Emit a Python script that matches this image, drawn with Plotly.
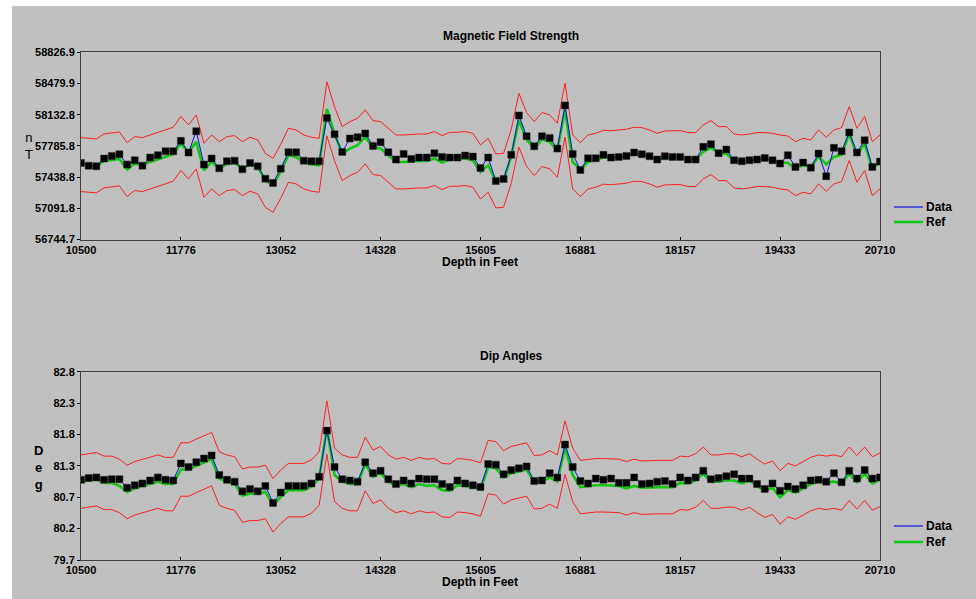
import plotly.graph_objects as go

W, H = 976, 599

# Survey stations (measured depth, ft)
depth_ft = [
    10500, 10598, 10696, 10795, 10893, 10991, 11089, 11187, 11285, 11384,
    11482, 11580, 11678, 11776, 11874, 11973, 12071, 12169, 12267, 12365,
    12463, 12562, 12660, 12758, 12856, 12954, 13052, 13151, 13249, 13347,
    13445, 13543, 13642, 13740, 13838, 13936, 14034, 14132, 14231, 14328,
    14427, 14525, 14623, 14721, 14820, 14918, 15016, 15114, 15212, 15310,
    15409, 15507, 15605, 15703, 15801, 15900, 15998, 16096, 16194, 16292,
    16390, 16489, 16587, 16685, 16783, 16881, 16979, 17078, 17176, 17274,
    17372, 17470, 17568, 17667, 17765, 17863, 17961, 18059, 18157, 18256,
    18354, 18452, 18550, 18648, 18747, 18845, 18943, 19041, 19139, 19237,
    19336, 19433, 19532, 19630, 19728, 19826, 19925, 20023, 20121, 20219,
    20317, 20415, 20514, 20612, 20710,
]

# Total magnetic field (nT)
mag_data = [
    57596, 57566, 57559, 57645, 57674, 57693, 57578, 57626, 57566, 57656,
    57682, 57726, 57726, 57842, 57711, 57949, 57578, 57645, 57537, 57615,
    57622, 57526, 57596, 57559, 57421, 57373, 57533, 57715, 57715, 57622,
    57615, 57615, 58096, 57916, 57719, 57868, 57883, 57924, 57786, 57827,
    57715, 57634, 57697, 57641, 57656, 57656, 57704, 57663, 57656, 57656,
    57678, 57667, 57541, 57656, 57396, 57418, 57686, 58124, 57894, 57782,
    57894, 57875, 57756, 58236, 57697, 57518, 57648, 57648, 57686, 57656,
    57663, 57674, 57712, 57693, 57671, 57634, 57671, 57663, 57663, 57634,
    57634, 57775, 57805, 57704, 57745, 57626, 57615, 57626, 57634, 57652,
    57626, 57589, 57682, 57552, 57600, 57544, 57700, 57448, 57764, 57726,
    57935, 57712, 57849, 57552, 57611,
]
mag_ref = [
    57578, 57570, 57563, 57619, 57633, 57641, 57522, 57589, 57578, 57607,
    57637, 57671, 57693, 57812, 57719, 57830, 57514, 57607, 57533, 57589,
    57600, 57533, 57582, 57552, 57403, 57347, 57503, 57682, 57663, 57607,
    57582, 57570, 58198, 57920, 57700, 57756, 57793, 57886, 57767, 57756,
    57682, 57607, 57607, 57615, 57618, 57618, 57645, 57600, 57637, 57637,
    57645, 57626, 57496, 57570, 57396, 57403, 57671, 58072, 57857, 57756,
    57857, 57831, 57738, 58184, 57607, 57522, 57607, 57626, 57660, 57654,
    57660, 57671, 57693, 57689, 57663, 57626, 57652, 57652, 57656, 57634,
    57634, 57719, 57767, 57700, 57700, 57618, 57607, 57618, 57634, 57634,
    57626, 57607, 57596, 57533, 57570, 57552, 57663, 57581, 57663, 57689,
    57924, 57682, 57812, 57533, 57607,
]
mag_tol = 300.0  # acceptance band around reference, nT

# Dip angle (deg)
dip_data = [
    81.02, 81.05, 81.06, 81.02, 81.03, 81.03, 80.89, 80.93, 80.96, 81.01,
    81.06, 81.02, 81.01, 81.29, 81.23, 81.31, 81.37, 81.42, 81.10, 81.02,
    80.99, 80.83, 80.87, 80.83, 80.92, 80.64, 80.81, 80.92, 80.92, 80.92,
    80.96, 81.07, 81.83, 81.23, 81.03, 81.01, 80.99, 81.31, 81.13, 81.17,
    81.03, 80.95, 81.01, 80.96, 81.04, 81.03, 81.03, 80.95, 80.90, 81.01,
    80.96, 80.93, 80.90, 81.28, 81.27, 81.11, 81.18, 81.21, 81.24, 81.00,
    81.01, 81.13, 81.06, 81.60, 81.23, 81.00, 80.96, 81.04, 81.02, 81.04,
    80.97, 80.97, 81.06, 80.95, 80.96, 80.99, 81.00, 80.95, 81.06, 81.01,
    81.06, 81.17, 81.03, 81.05, 81.08, 81.11, 81.04, 81.04, 80.95, 80.87,
    80.96, 80.84, 80.91, 80.87, 80.93, 81.01, 81.02, 80.99, 81.13, 80.98,
    81.17, 81.04, 81.18, 81.04, 81.06,
]
dip_ref = [
    80.99, 81.01, 81.03, 80.97, 80.97, 80.92, 80.82, 80.88, 80.92, 80.96,
    80.99, 80.95, 80.95, 81.19, 81.19, 81.25, 81.30, 81.36, 81.04, 80.99,
    80.96, 80.76, 80.79, 80.79, 80.82, 80.60, 80.74, 80.85, 80.85, 80.85,
    80.91, 81.04, 81.88, 81.10, 80.99, 80.95, 80.95, 81.28, 81.07, 81.13,
    80.99, 80.92, 80.95, 80.90, 80.95, 80.92, 80.93, 80.85, 80.84, 80.93,
    80.92, 80.90, 80.86, 81.23, 81.21, 81.06, 81.13, 81.16, 81.19, 80.98,
    80.99, 81.06, 80.99, 81.55, 81.10, 80.90, 80.92, 80.93, 80.93, 80.92,
    80.92, 80.88, 80.92, 80.89, 80.90, 80.90, 80.90, 80.90, 80.97, 80.96,
    81.01, 81.12, 80.99, 80.99, 81.01, 81.01, 80.96, 81.01, 80.92, 80.84,
    80.89, 80.73, 80.85, 80.81, 80.88, 80.95, 80.99, 80.97, 80.99, 80.96,
    81.12, 80.98, 81.12, 80.96, 81.02,
]
dip_tol = 0.44  # acceptance band around reference, deg

# Axis ticks
x_tick_vals = [10500, 11776.25, 13052.5, 14328.75, 15605,
               16881.25, 18157.5, 19433.75, 20710]
x_tick_text = ["10500", "11776", "13052", "14328", "15605",
               "16881", "18157", "19433", "20710"]
mag_tick_vals = [56744.7, 57091.8, 57438.8, 57785.8, 58132.8, 58479.9, 58826.9]
mag_tick_text = ["56744.7", "57091.8", "57438.8", "57785.8",
                 "58132.8", "58479.9", "58826.9"]
dip_tick_vals = [79.7, 80.2167, 80.7333, 81.25, 81.7667, 82.2833, 82.8]
dip_tick_text = ["79.7", "80.2", "80.7", "81.3", "81.8", "82.3", "82.8"]

RED = "#ff2020"
GREEN = "#10c810"
BLUE = "#1010e0"
BG = "#c0c0c0"
FONT = "Liberation Sans, Arial, sans-serif"


def px_x(x):
    return x / W


def px_y(y):
    return 1 - y / H


fig = go.Figure()


def add_panel(xa, ya, data, ref, tol):
    upper = [r + tol for r in ref]
    lower = [r - tol for r in ref]
    common = dict(x=depth_ft, xaxis=xa, yaxis=ya, showlegend=False,
                  hoverinfo="skip")
    fig.add_trace(go.Scatter(y=upper, mode="lines",
                             line=dict(color=RED, width=1), **common))
    fig.add_trace(go.Scatter(y=lower, mode="lines",
                             line=dict(color=RED, width=1), **common))
    fig.add_trace(go.Scatter(y=ref, mode="lines",
                             line=dict(color=GREEN, width=2.6), **common))
    fig.add_trace(go.Scatter(y=data, mode="lines",
                             line=dict(color=BLUE, width=1), **common))
    fig.add_trace(go.Scatter(y=data, mode="markers",
                             marker=dict(symbol="square", size=7, color="#000000",
                                         line=dict(color="#303030", width=0.5)),
                             **common))


add_panel("x", "y", mag_data, mag_ref, mag_tol)
add_panel("x2", "y2", dip_data, dip_ref, dip_tol)

tick_font = dict(family=FONT, size=11, color="#000000", weight="bold")
xaxis_common = dict(
    range=[10500, 20710], tickmode="array", tickvals=x_tick_vals,
    ticktext=x_tick_text, ticks="inside", ticklen=3, tickcolor="#000000",
    showgrid=False, zeroline=False, showline=True, linecolor="#404040",
    linewidth=1, mirror=True, tickfont=tick_font, fixedrange=True,
    automargin=False,
)
yaxis_common = dict(
    tickmode="array", ticks="outside", ticklen=3, tickcolor="#000000",
    showgrid=False, zeroline=False, showline=True, linecolor="#404040",
    linewidth=1, mirror=True, tickfont=tick_font, fixedrange=True,
    automargin=False,
)

fig.update_layout(
    width=W, height=H,
    margin=dict(l=0, r=0, t=0, b=0, pad=0, autoexpand=False),
    paper_bgcolor="#ffffff",
    plot_bgcolor="#ffffff",
    showlegend=False,
    xaxis=dict(domain=[px_x(81), px_x(880)], anchor="y", **xaxis_common),
    yaxis=dict(domain=[px_y(239.5), px_y(52.3)], anchor="x",
               range=[56744.7, 58826.9], tickvals=mag_tick_vals,
               ticktext=mag_tick_text, **yaxis_common),
    xaxis2=dict(domain=[px_x(81), px_x(880)], anchor="y2", **xaxis_common),
    yaxis2=dict(domain=[px_y(560), px_y(371.7)], anchor="x2",
                range=[79.7, 82.8], tickvals=dip_tick_vals,
                ticktext=dip_tick_text, **yaxis_common),
)

shapes = [
    # grey panel behind both charts
    dict(type="rect", xref="paper", yref="paper", layer="below",
         x0=px_x(12), x1=1, y0=0, y1=px_y(6),
         fillcolor=BG, line=dict(width=0)),
]

annotations = []


def text(x, y, s, size=12, bold=True, anchor="center"):
    annotations.append(dict(
        xref="paper", yref="paper", x=px_x(x), y=px_y(y), text=s,
        showarrow=False, xanchor=anchor, yanchor="middle",
        font=dict(family=FONT, size=size, color="#000000",
                  weight="bold" if bold else "normal"),
    ))


# titles and axis labels
text(511, 36, "Magnetic Field Strength")
text(480, 262, "Depth in Feet")
text(29, 146, "n<br>T", size=13, bold=False)
text(511, 356, "Dip Angles")
text(480, 582, "Depth in Feet")
text(38, 467, "D<br>e<br>g", size=13)

# legend keys
for y_data, y_ref in [(207, 222), (526, 542)]:
    shapes.append(dict(type="line", xref="paper", yref="paper",
                       x0=px_x(894), x1=px_x(923), y0=px_y(y_data), y1=px_y(y_data),
                       line=dict(color=BLUE, width=1.2)))
    shapes.append(dict(type="line", xref="paper", yref="paper",
                       x0=px_x(894), x1=px_x(923), y0=px_y(y_ref), y1=px_y(y_ref),
                       line=dict(color=GREEN, width=2.6)))
    text(924, y_data, "Data", size=12, anchor="left")
    text(924, y_ref, "Ref", size=12, anchor="left")

fig.update_layout(shapes=shapes, annotations=annotations)

# the figure fills the whole page, so drop the default body margin
fig.write_html(
    "out.html",
    post_script="document.body.style.margin='0';"
                "document.body.style.overflow='hidden';",
)
